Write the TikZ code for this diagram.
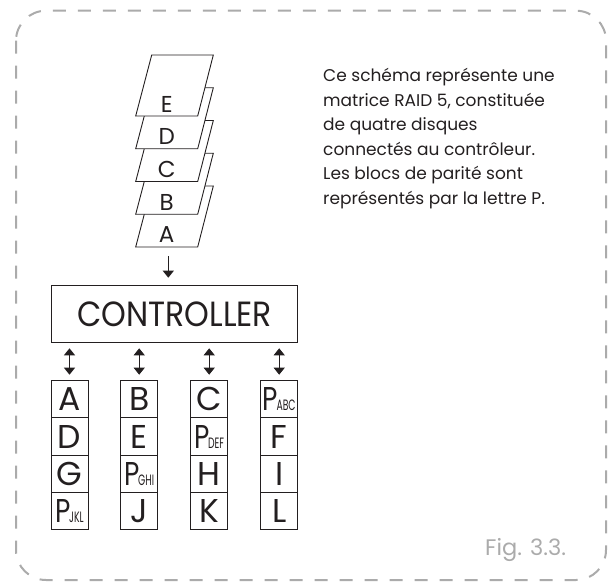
\documentclass[tikz,border=0pt]{standalone}
\usepackage{fontspec}
\usepackage{graphicx}
\setmainfont{Poppins}
\usetikzlibrary{arrows.meta}
\definecolor{ink}{HTML}{231F20}
\definecolor{framegray}{HTML}{ABABAB}
\newcommand\Pblk[1]{\scalebox{0.8}[1]{P}\kern-1.5pt{\fontsize{15}{15}\selectfont\scalebox{0.62}[1]{#1}}}
\begin{document}
\begin{tikzpicture}[x=1pt,y=-1pt,
  sheet/.style={draw=ink, line width=0.9pt, fill=white, line join=miter},
  stacklbl/.style={inner sep=0pt, text=ink, font=\fontsize{23}{23}\selectfont},
  ctrlbox/.style={draw=ink, line width=1pt, minimum width=246pt, minimum height=56.6pt, inner sep=0pt, text=ink, font=\fontsize{35}{35}\selectfont},
  cell/.style={draw=ink, line width=1pt, minimum width=37pt, minimum height=37.2pt, inner sep=0pt, text=ink, font=\fontsize{33}{33}\selectfont},
  arr/.style={draw=ink, line width=1pt, -{Triangle[width=11pt,length=7pt]}},
  dbl/.style={draw=ink, line width=1pt, {Triangle[width=11pt,length=7pt]}-{Triangle[width=11pt,length=7pt]}},
  note/.style={inner sep=0pt, text=ink, align=left, font=\fontsize{17}{24.6}\selectfont},
  figlbl/.style={inner sep=0pt, text=framegray, font=\fontsize{22.5}{22.5}\selectfont}
]
\useasboundingbox (0,0) rectangle (611,582);
% dashed frame
\draw[framegray, line width=2pt, dash pattern=on 13pt off 12pt, rounded corners=30pt] (16,10.7) rectangle (606,580);

% stack of sheets
\foreach \L [count=\i from 0] in {A,B,C,D,E}{
  \pgfmathsetmacro\t{186-\i*32.75}
  \draw[sheet] (151.7,\t) -- (213.3,\t) -- (197.7,\t+61) -- (135.7,\t+61) -- cycle;
  \node[stacklbl] (s\L) at (166.7,\t+49) {\L};
}
\coordinate (stackout) at (168.3,256);

% controller
\node[ctrlbox] (ctrl) at (174.7,314) {\scalebox{0.9}[1]{CONTROLLER}};
\draw[arr, shorten >=7.5pt] (stackout) -- (stackout |- ctrl.north);

% disks
\node[cell] (c11) at (69.5,399.3) {A};
\node[cell] (c12) at (69.5,436.5) {D};
\node[cell] (c13) at (69.5,473.7) {G};
\node[cell] (c14) at (69.5,510.9) {\Pblk{JKL}};
\node[cell] (c21) at (139.2,399.3) {B};
\node[cell] (c22) at (139.2,436.5) {E};
\node[cell] (c23) at (139.2,473.7) {\Pblk{GHI}};
\node[cell] (c24) at (139.2,510.9) {J};
\node[cell] (c31) at (209.2,399.3) {C};
\node[cell] (c32) at (209.2,436.5) {\Pblk{DEF}};
\node[cell] (c33) at (209.2,473.7) {H};
\node[cell] (c34) at (209.2,510.9) {K};
\node[cell] (c41) at (279.2,399.3) {\Pblk{ABC}};
\node[cell] (c42) at (279.2,436.5) {F};
\node[cell] (c43) at (279.2,473.7) {I};
\node[cell] (c44) at (279.2,510.9) {L};

\foreach \c in {c11,c21,c31,c41}{
  \draw[dbl, shorten <=5.5pt, shorten >=5.5pt] (ctrl.south -| \c.north) -- (\c.north);
}

% text
\node[note, anchor=north west] (txt) at (323,68) {Ce schéma représente une\\matrice RAID 5, constituée\\de quatre disques\\connectés au contrôleur.\\Les blocs de parité sont\\représentés par la lettre P.};
\node[figlbl, anchor=base west] (fig) at (485,555) {Fig. 3.3.};
\end{tikzpicture}
\end{document}
